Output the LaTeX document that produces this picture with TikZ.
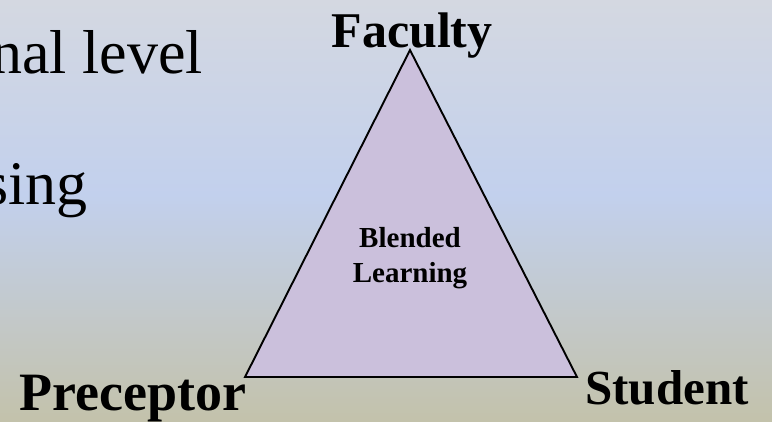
\documentclass[tikz,border=0pt]{standalone}
\usepackage{fontspec}
\setmainfont{Liberation Serif}

\definecolor{bgtop}{HTML}{D4D8E1}
\definecolor{bgmid}{HTML}{C2D0ED}
\definecolor{bgbot}{HTML}{C3C2AB}
\definecolor{trifill}{HTML}{CBC0DC}

\tikzset{
  cornerlabel/.style={inner sep=0pt, font=\fontsize{50}{60}\selectfont\bfseries},
  slidetext/.style={inner sep=0pt, anchor=base east, font=\fontsize{62}{70}\selectfont},
}

\begin{document}
\begin{tikzpicture}[x=1pt,y=-1pt]
                % Background
                \useasboundingbox (0,0) rectangle (772,421);
                \shade[top color=bgtop, bottom color=bgmid] (0,0) rectangle (772,196);
                \shade[top color=bgmid, bottom color=bgbot] (0,195) rectangle (772,421);

                % Slide text running off the left edge
                \node[slidetext] (level) at (203,73) {nal level};
                \node[slidetext] (nursing) at (88,204) {sing};

                % Triangle
                \coordinate (apex) at (410,50);
                \coordinate (leftcorner) at (245,377);
                \coordinate (rightcorner) at (577,377);
                \draw[line width=1.9pt, fill=trifill] (apex) -- (leftcorner) -- (rightcorner) -- cycle;

                % Corner labels
                \node[cornerlabel, anchor=base] (faculty) at (412,47) {Faculty};
                \node[cornerlabel, anchor=base, font=\fontsize{54}{60}\selectfont\bfseries] (preceptor) at (133,410) {Preceptor};
                \node[cornerlabel, anchor=base west, font=\fontsize{49}{60}\selectfont\bfseries] (student) at (585,404) {Student};
                \node[align=center, inner sep=0pt, font=\fontsize{29}{35}\selectfont\bfseries] (blended) at (410,258) {Blended\\Learning};
              \end{tikzpicture}
\end{document}
